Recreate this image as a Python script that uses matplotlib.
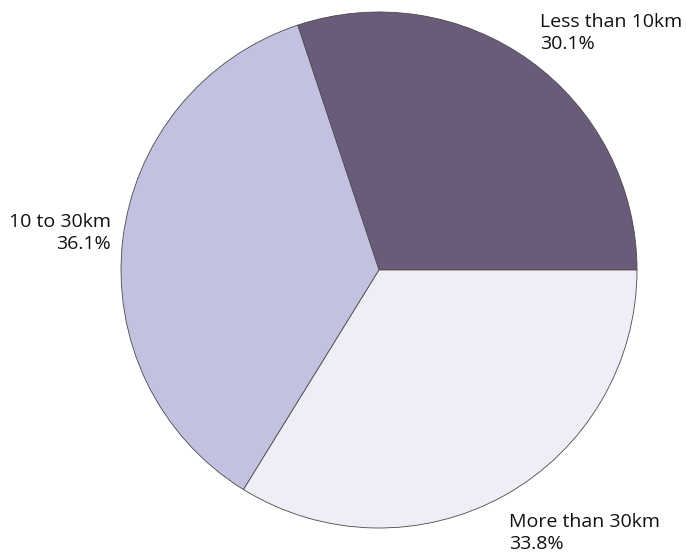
import matplotlib
matplotlib.use("Agg")
import matplotlib.pyplot as plt

categories = ["Less than 10km", "10 to 30km", "More than 30km"]
values = [30.1, 36.1, 33.8]
colors = ["#6b5b7b", "#c2c2e0", "#efedf5"]

W, H = 686, 559
fig = plt.figure(figsize=(W / 100, H / 100), dpi=100)
cx, cy, r = 379, 270, 258
ax = fig.add_axes([(cx - r) / W, 1 - (cy + r) / H, 2 * r / W, 2 * r / H])
ax.pie(values, colors=colors, startangle=0, counterclock=True,
       wedgeprops=dict(edgecolor="#4a4a4a", linewidth=0.6))
ax.set_aspect("equal")
ax.set_xlim(-1, 1)
ax.set_ylim(-1, 1)
ax.axis("off")

font = dict(family=["Open Sans", "DejaVu Sans"], fontsize=14, color="#111111")
# label anchors in pixel coords (x, top y, ha)
label_pos = [(540, 13, "left"), (111, 213, "right"), (509, 513, "left")]
for cat, val, (x, y, ha) in zip(categories, values, label_pos):
    fig.text(x / W, 1 - y / H, f"{cat}\n{val:.1f}%", ha=ha, va="top",
             multialignment=ha, linespacing=1.32, **font)

fig.savefig("out.png", dpi=100)
